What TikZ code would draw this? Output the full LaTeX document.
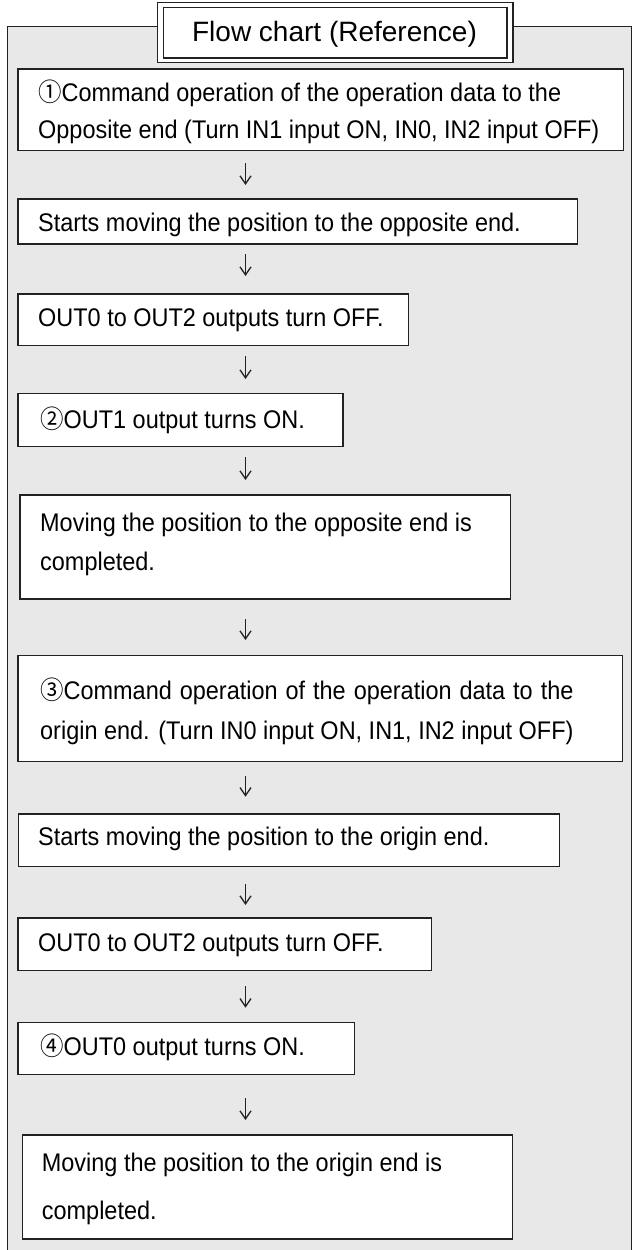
\documentclass[tikz,border=0pt]{standalone}
\usepackage{fontspec}
\setmainfont{Liberation Sans}[FakeStretch=0.92]
\newfontfamily\titlefont{Liberation Sans}
\newfontfamily\cjk{Noto Sans CJK JP}[FakeStretch=0.92]
\usetikzlibrary{arrows.meta}
\newlength\jw
\definecolor{panelgray}{HTML}{E8E8E8}
\definecolor{ink}{HTML}{222222}

\begin{document}
\begin{tikzpicture}[x=1pt,y=-1pt,
  stepbox/.style={draw=ink, line width=1.3pt, fill=white, rectangle, inner sep=0pt, anchor=north west},
  txt/.style={anchor=base west, inner sep=0pt, font=\fontsize{25.5}{30}\selectfont, text=black},
  flow/.style={draw=ink, line width=1.3pt, -{Straight Barb[length=8pt,width=11pt]}}]

\useasboundingbox (0,0) rectangle (632,1250);
\clip (0,0) rectangle (632,1250);

% grey panel behind the whole chart
\draw[ink, line width=1pt, fill=panelgray] (7.3,26) rectangle (631,1265);

% title with double frame
\draw[ink, line width=1.4pt, fill=white] (157.7,2.7) rectangle (513,62.7);
\draw[ink, line width=1.4pt] (163.3,7.3) rectangle (507,58);
\node[txt, anchor=base, font=\titlefont\fontsize{28}{32}\selectfont] (title) at (334.5,41.7) {Flow chart (Reference)};

% axis of the connectors
\coordinate (ax) at (245.5,0);

% step boxes
\node[stepbox, minimum width=605.7pt, minimum height=81.7pt] (b1) at (17.3,68.3) {};
\node[stepbox, minimum width=559.7pt, minimum height=45pt]   (b2) at (17.3,198.3) {};
\node[stepbox, minimum width=390.7pt, minimum height=51.7pt] (b3) at (17.3,293.3) {};
\node[stepbox, minimum width=325pt,   minimum height=53pt]   (b4) at (17.3,392.7) {};
\node[stepbox, minimum width=490.6pt, minimum height=104pt]  (b5) at (19.4,494.3) {};
\node[stepbox, minimum width=604.7pt, minimum height=105.7pt] (b6) at (17.3,655) {};
\node[stepbox, minimum width=540.5pt, minimum height=52.7pt] (b7) at (18,813.3) {};
\node[stepbox, minimum width=413.3pt, minimum height=52.7pt] (b8) at (17.3,917.3) {};
\node[stepbox, minimum width=336.3pt, minimum height=52.3pt] (b9) at (17.3,1021.7) {};
\node[stepbox, minimum width=490.3pt, minimum height=104pt]  (b10) at (21.7,1134.3) {};

% box texts
\node[txt] (t1a) at (38,101.7) {{\cjk ①}Command operation of the operation data to the};
\node[txt] (t1b) at (38,138) {Opposite end (Turn IN1 input ON, IN0, IN2 input OFF)};
\node[txt] (t2) at (38,231.7) {Starts moving the position to the opposite end.};
\node[txt] (t3) at (38,326.7) {OUT0 to OUT2 outputs turn OFF.};
\node[txt] (t4) at (40,428) {{\cjk ②}OUT1 output turns ON.};
\node[txt] (t5a) at (40,531.5) {Moving the position to the opposite end is};
\node[txt] (t5b) at (40,570.7) {completed.};
\node[txt] (t6a) at (40,699) {\settowidth{\jw}{origin end. (Turn IN0 input ON, IN1, IN2 input OFF)}%
  \makebox[\jw][s]{{\cjk ③}Command operation of the operation data to the}};
\node[txt] (t6b) at (40,739.5) {origin end. (Turn IN0 input ON, IN1, IN2 input OFF)};
\node[txt] (t7) at (38,845) {Starts moving the position to the origin end.};
\node[txt] (t8) at (38,951.7) {OUT0 to OUT2 outputs turn OFF.};
\node[txt] (t9) at (40,1055) {{\cjk ④}OUT0 output turns ON.};
\node[txt] (t10a) at (41.7,1171.7) {Moving the position to the origin end is};
\node[txt] (t10b) at (41.7,1219) {completed.};

% connectors
\draw[flow, shorten <=11.7pt, shorten >=13.3pt] (b1.south -| ax) -- (b2.north -| ax);
\draw[flow, shorten <=9.4pt,  shorten >=17.3pt] (b2.south -| ax) -- (b3.north -| ax);
\draw[flow, shorten <=10pt,   shorten >=13.7pt] (b3.south -| ax) -- (b4.north -| ax);
\draw[flow, shorten <=10.3pt, shorten >=14.3pt] (b4.south -| ax) -- (b5.north -| ax);
\draw[flow, shorten <=19.7pt, shorten >=15pt]   (b5.south -| ax) -- (b6.north -| ax);
\draw[flow, shorten <=14.3pt, shorten >=16.6pt] (b6.south -| ax) -- (b7.north -| ax);
\draw[flow, shorten <=17pt,   shorten >=12.3pt] (b7.south -| ax) -- (b8.north -| ax);
\draw[flow, shorten <=15pt,   shorten >=14pt]   (b8.south -| ax) -- (b9.north -| ax);
\draw[flow, shorten <=22.7pt, shorten >=14.3pt] (b9.south -| ax) -- (b10.north -| ax);
\end{tikzpicture}
\end{document}
